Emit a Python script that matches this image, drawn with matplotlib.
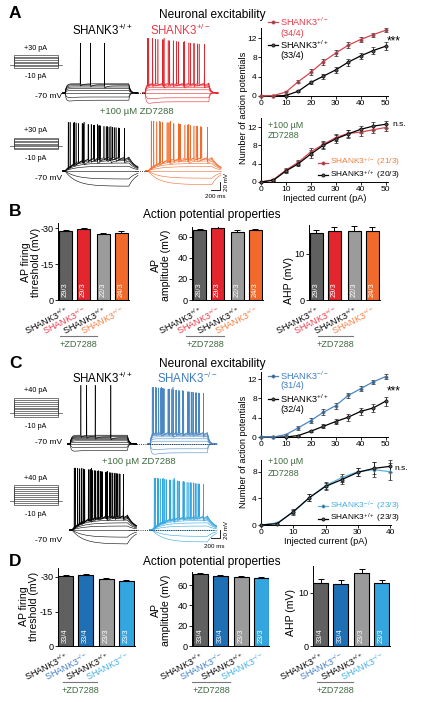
import numpy as np
import matplotlib.pyplot as plt

plt.rcParams['font.family'] = ['Liberation Sans', 'DejaVu Sans']
plt.rcParams['mathtext.fontset'] = 'custom'
plt.rcParams['mathtext.rm'] = 'Liberation Sans'
plt.rcParams['mathtext.default'] = 'regular'

# ---------- data ----------
current = [0, 5, 10, 15, 20, 25, 30, 35, 40, 45, 50]
a_het = [0, 0.1, 0.8, 3.0, 4.9, 7.1, 8.9, 10.5, 11.7, 12.7, 13.6]
a_het_err = [0, 0.1, 0.3, 0.4, 0.6, 0.6, 0.6, 0.6, 0.5, 0.4, 0.4]
a_wt = [0, 0, 0.1, 1.0, 2.8, 4.1, 5.4, 7.0, 8.3, 9.4, 10.3]
a_wt_err = [0, 0, 0.1, 0.2, 0.4, 0.5, 0.6, 0.7, 0.7, 0.8, 0.8]
a_zd_het = [0, 0.5, 2.6, 4.3, 6.6, 8.2, 9.7, 10.6, 10.9, 11.4, 11.9]
a_zd_het_err = [0, 0.2, 0.5, 0.6, 0.8, 0.8, 0.8, 0.8, 0.8, 0.8, 0.8]
a_zd_wt = [0, 0.4, 2.4, 4.0, 6.1, 8.0, 9.4, 10.5, 11.5, 12.2, 12.6]
a_zd_wt_err = [0, 0.2, 0.5, 0.6, 0.8, 0.8, 0.8, 0.8, 0.8, 0.8, 0.8]

c_ko = [0, 0, 0.5, 1.9, 3.4, 5.1, 6.5, 8.6, 10.0, 11.4, 12.5]
c_ko_err = [0, 0, 0.2, 0.4, 0.5, 0.6, 0.6, 0.6, 0.5, 0.5, 0.5]
c_wt = [0, 0, 0, 0.3, 1.2, 2.2, 3.2, 4.1, 5.3, 6.0, 7.4]
c_wt_err = [0, 0, 0, 0.1, 0.2, 0.4, 0.5, 0.7, 0.8, 0.9, 0.9]
current_zd = [0, 5, 10, 15, 20, 25, 30, 35, 40]
c_zd_ko = [0, 0.3, 1.9, 4.1, 5.9, 7.1, 8.0, 8.3, 8.0]
c_zd_ko_err = [0, 0.2, 0.4, 0.5, 0.5, 0.6, 0.6, 1.1, 1.3]
c_zd_wt = [0, 0.2, 2.0, 4.1, 5.8, 6.8, 7.9, 8.5, 8.8]
c_zd_wt_err = [0, 0.2, 0.4, 0.5, 0.5, 0.6, 0.6, 0.9, 0.9]

b_thr = [28.6, 29.7, 27.4, 27.8]
b_thr_err = [0.4, 0.5, 0.7, 1.0]
b_amp = [66.4, 68.3, 64.8, 66.4]
b_amp_err = [1.5, 1.9, 2.0, 1.2]
b_ahp = [14.6, 14.9, 14.9, 14.9]
b_ahp_err = [0.7, 1.0, 1.1, 1.0]
b_n = [['29/3', '29/3', '22/3', '24/3'],
       ['28/3', '29/3', '22/3', '24/3'],
       ['29/3', '29/3', '22/3', '24/3']]
d_thr = [30.3, 30.7, 29.1, 28.4]
d_thr_err = [0.4, 0.6, 0.5, 0.4]
d_amp = [70.6, 69.0, 68.0, 67.3]
d_amp_err = [1.0, 1.2, 1.0, 0.9]
d_ahp = [11.75, 11.6, 13.6, 11.75]
d_ahp_err = [0.8, 0.7, 0.8, 0.6]
d_n = ['33/4', '33/4', '23/3', '23/3']

# example traces: steps (pA), steady deflection (mV), spike counts, first-spike latency
steps_a = [-10, -5, 0, 5, 10, 15, 20, 25, 30]
steps_c = [-10, -5, 0, 5, 10, 15, 20, 25, 30, 35, 40]
a_wt_defl = [-18, -10, 0, 6, 11, 15, 18, 21, 23]
a_wt_spk = [0, 0, 0, 0, 0, 0, 1, 1, 1]
a_wt_lat = [0, 0, 0, 0, 0, 0, 0.62, 0.40, 0.24]
a_het_defl = [-22, -12, 0, 8, 14, 18, 21, 23, 25]
a_het_spk = [0, 0, 0, 0, 0, 3, 6, 9, 12]
a_het_lat = [0, 0, 0, 0, 0, 0.3, 0.12, 0.06, 0.04]
a_zwt_defl = [-38, -20, 0, 12, 20, 26, 30, 33, 35]
a_zwt_spk = [0, 0, 0, 0, 0, 4, 7, 10, 12]
a_zwt_lat = [0, 0, 0, 0, 0, 0.3, 0.15, 0.08, 0.05]
a_zhet_defl = [-34, -18, 0, 11, 19, 25, 29, 32, 34]
a_zhet_spk = [0, 0, 0, 0, 0, 3, 6, 9, 11]
a_zhet_lat = [0, 0, 0, 0, 0, 0.35, 0.18, 0.09, 0.05]
c_wt_defl = [-16, -8, 0, 4, 8, 11, 14, 16, 18, 20, 22]
c_wt_spk = [0, 0, 0, 0, 0, 0, 0, 1, 1, 1, 1]
c_wt_lat = [0, 0, 0, 0, 0, 0, 0, 0.71, 0.44, 0.29, 0.19]
c_ko_defl = [-22, -12, 0, 7, 13, 18, 22, 25, 27, 29, 30]
c_ko_spk = [0, 0, 0, 0, 0, 0, 2, 5, 8, 11, 14]
c_ko_lat = [0, 0, 0, 0, 0, 0, 0.4, 0.2, 0.1, 0.06, 0.04]
c_zwt_defl = [-35, -18, 0, 10, 18, 25, 30, 33, 35, 37, 38]
c_zwt_spk = [0, 0, 0, 0, 0, 0, 3, 6, 9, 12, 15]
c_zwt_lat = [0, 0, 0, 0, 0, 0, 0.35, 0.18, 0.1, 0.06, 0.04]
c_zko_defl = [-30, -16, 0, 10, 18, 24, 28, 31, 33, 35, 36]
c_zko_spk = [0, 0, 0, 0, 0, 0, 2, 5, 8, 11, 13]
c_zko_lat = [0, 0, 0, 0, 0, 0, 0.4, 0.2, 0.1, 0.06, 0.04]

# ---------- colours ----------
K = 'black'
RED = '#e3262d'
RED_T = '#e83a48'
RED_L = '#d9434f'
ORA = '#f26a2b'
ORA_T = '#f47c3c'
BLU = '#1f6fb4'
BLU_T = '#3d7cc4'
BLU_L = '#4a87c2'
LBL = '#33a6e0'
LBL_T = '#41ade3'
GRN = '#3d6b3f'
DG = '#606060'
LG = '#9b9b9b'

W, H = 421, 702
fig = plt.figure(figsize=(W / 100, H / 100), dpi=100)


def px_axes(l, t, r, b, **kw):
    return fig.add_axes([l / W, 1 - b / H, (r - l) / W, (b - t) / H], **kw)


ov = px_axes(0, 0, W, H, zorder=10)
ov.set_xlim(0, W)
ov.set_ylim(H, 0)
ov.axis('off')


def T(x, y, s, **kw):
    kw.setdefault('ha', 'center')
    kw.setdefault('va', 'center')
    ov.text(x, y, s, **kw)


SUP_WT = 'SHANK3$^{+/+}$'
SUP_HET = 'SHANK3$^{+/-}$'
SUP_KO = 'SHANK3$^{-/-}$'

# ---------- traces ----------
MS_PX = 23.5
MV_PX = 0.4


def trace_axes(top, bottom, base):
    ax = px_axes(60, top, 235, bottom)
    ax.set_xlim(0, 175 * MS_PX)
    ax.set_ylim(-70 - (bottom - base) / MV_PX, -70 + (base - top) / MV_PX)
    ax.axis('off')
    return ax


def draw_group(ax, start_px, defl, spk, lat, peak, color, dur, tau, sag):
    t0 = (start_px - 60) * MS_PX
    for d, n, la in zip(defl, spk, lat):
        t = np.arange(t0 - 60, t0 + dur + 220, 4.0)
        s = t - t0
        v = np.full(t.shape, -70.0)
        on = (s >= 0) & (s <= dur)
        ch = 1 - np.exp(-s[on] / tau)
        sg = sag * np.exp(-s[on] / 150) if d < 0 else 0
        v[on] = -70 + d * ch * (1 + sg)
        v_end = -70 + d * (1 - np.exp(-dur / tau))
        off = s > dur
        so = s[off] - dur
        v[off] = -70 + (v_end + 70) * np.exp(-so / (tau * 0.6 + 20))
        if d < 0 and sag > 0:
            v[off] += -d * sag * 0.8 * np.exp(-so / 80) * (1 - np.exp(-so / 10))
        if n:
            ts = t0 + dur * np.linspace(la, 0.93, n)
            for tk in ts:
                m = (t > tk) & (t < t0 + dur)
                v[m] -= 6 * np.exp(-(t[m] - tk) / 60)
            for k, tk in enumerate(ts):
                i = np.argmin(np.abs(t - tk))
                v[i] = peak - 16 * k / max(n - 1, 1)
        ax.plot(t, v, color=color, lw=0.4)
    return t0, t0 + dur + 150


def protocol(top, bottom, levels, hi, lo):
    lo_v, hi_v = min(levels), max(levels)
    y0 = bottom - (0 - lo_v) / (hi_v - lo_v) * (bottom - top)
    for I in levels:
        y = bottom - (I - lo_v) / (hi_v - lo_v) * (bottom - top)
        ov.plot([14, 14, 58, 58], [y0, y, y, y0], color='#444444', lw=0.5)
    ov.plot([10, 14], [y0, y0], color='#444444', lw=0.5)
    ov.plot([58, 62], [y0, y0], color='#444444', lw=0.5)
    T(36, top - 7, hi, fontsize=5.2)
    T(36, bottom + 9, lo, fontsize=5.2)


# Row A1
ax = trace_axes(20, 125, 93)
s1, e1 = draw_group(ax, 65, a_wt_defl, a_wt_spk, a_wt_lat, 55, K, 1500, 30, 0.3)
s2, e2 = draw_group(ax, 145, a_het_defl, a_het_spk, a_het_lat, 67, RED, 1500, 30, 0.4)
ax.plot([e1, s2], [-70, -70], ':', color=K, lw=0.6)
# Row A2
ax = trace_axes(110, 200, 171)
s1, e1 = draw_group(ax, 65, a_zwt_defl, a_zwt_spk, a_zwt_lat, 52, K, 1500, 260, 0)
s2, e2 = draw_group(ax, 148, a_zhet_defl, a_zhet_spk, a_zhet_lat, 55, ORA, 1500, 260, 0)
ax.plot([e1, s2], [-70, -70], ':', color=K, lw=0.6)
xb = (220 - 60) * MS_PX
ax.plot([xb - 200, xb, xb], [-70 - 19 / MV_PX, -70 - 19 / MV_PX, -70 - 19 / MV_PX + 20],
        color=K, lw=0.6)
# Row C1
ax = trace_axes(370, 470, 444)
s1, e1 = draw_group(ax, 70, c_wt_defl, c_wt_spk, c_wt_lat, 77, K, 1350, 30, 0.3)
s2, e2 = draw_group(ax, 150, c_ko_defl, c_ko_spk, c_ko_lat, 72, BLU_L, 1350, 30, 0.4)
ax.plot([e1, e2], [-70, -70], ':', color=K, lw=0.6)
# Row C2
ax = trace_axes(455, 560, 530)
s1, e1 = draw_group(ax, 72, c_zwt_defl, c_zwt_spk, c_zwt_lat, 85, K, 1300, 260, 0)
s2, e2 = draw_group(ax, 152, c_zko_defl, c_zko_spk, c_zko_lat, 60, LBL, 1300, 260, 0)
ax.plot([e1 - 100, e2], [-70, -70], ':', color=K, lw=0.6)
ax.plot([xb - 200, xb, xb], [-70 - 8 / MV_PX, -70 - 8 / MV_PX, -70 - 8 / MV_PX + 20],
        color=K, lw=0.6)

protocol(55, 68, steps_a, '+30 pA', '-10 pA')
protocol(138, 149, steps_a, '+30 pA', '-10 pA')
protocol(398, 417, steps_c, '+40 pA', '-10 pA')
protocol(485, 505, steps_c, '+40 pA', '-10 pA')

for y in (97, 179, 443, 540):
    T(62, y, '-70 mV', fontsize=6, ha='right')
T(137, 112, '+100 µM ZD7288', fontsize=6.8, color=GRN)
T(139, 462, '+100 µM ZD7288', fontsize=6.8, color=GRN)
T(226, 182, '20 mV', fontsize=4.5, rotation=90)
T(215, 196, '200 ms', fontsize=4.5)
T(226, 530, '20 mV', fontsize=4.5, rotation=90)
T(214, 547, '200 ms', fontsize=4.5)

T(72, 30, SUP_WT, fontsize=8.3, ha='left')
T(150, 30, SUP_HET, fontsize=8.3, ha='left', color=RED_T)
T(72, 378, SUP_WT, fontsize=8.3, ha='left')
T(157, 378, SUP_KO, fontsize=8.3, ha='left', color=BLU_T)

# panel letters and titles
for lab, y in (('A', 14), ('B', 211), ('C', 364), ('D', 561)):
    T(9, y, lab, fontsize=12.5, fontweight='bold', ha='left')
T(212, 15, 'Neuronal excitability', fontsize=8.6)
T(212, 364, 'Neuronal excitability', fontsize=8.6)
T(212, 215, 'Action potential properties', fontsize=8.6)
T(212, 562, 'Action potential properties', fontsize=8.6)


# ---------- action potential count curves ----------
def style(ax, ylim, yticks, xlim, xticks):
    ax.set_ylim(*ylim)
    ax.set_xlim(*xlim)
    ax.set_yticks(yticks)
    ax.set_xticks(xticks)
    for sp in ('top', 'right'):
        ax.spines[sp].set_visible(False)
    for sp in ('left', 'bottom'):
        ax.spines[sp].set_linewidth(0.7)
    ax.tick_params(labelsize=6, length=2, width=0.6, pad=1)
    ax.patch.set_alpha(0)


def curve(ax, x, y, e, c):
    ax.errorbar(x, y, yerr=e, color=c, lw=0.9, marker='o', ms=2.3, mfc='#555555',
                mec=c, mew=0.5, ecolor='#222222', elinewidth=0.6, capsize=1.2,
                capthick=0.6, clip_on=False, zorder=3)


ax = px_axes(261, 28.4, 388, 96)
curve(ax, current, a_wt, a_wt_err, K)
curve(ax, current, a_het, a_het_err, RED_L)
style(ax, (0, 14), [0, 4, 8, 12], (0, 51), range(0, 51, 10))

ax = px_axes(261, 117.9, 388, 182)
curve(ax, current, a_zd_het, a_zd_het_err, RED_L)
curve(ax, current, a_zd_wt, a_zd_wt_err, K)
style(ax, (0, 14), [0, 4, 8, 12], (0, 51), range(0, 51, 10))
ax.set_xlabel('Injected current (pA)', fontsize=6.6, labelpad=0.5)

ax = px_axes(261, 371.8, 388, 437)
curve(ax, current, c_wt, c_wt_err, K)
curve(ax, current, c_ko, c_ko_err, BLU_L)
style(ax, (0, 13.5), [0, 4, 8, 12], (0, 51), range(0, 51, 10))

ax = px_axes(261, 459.7, 391, 525)
curve(ax, current_zd, c_zd_ko, c_zd_ko_err, '#5ab4e0')
curve(ax, current_zd, c_zd_wt, c_zd_wt_err, K)
style(ax, (0, 9.8), [0, 4, 8], (0, 40.3), range(0, 41, 10))
ax.set_xlabel('Injected current (pA)', fontsize=6.6, labelpad=0.5)

T(243, 108, 'Number of action potentials', fontsize=6.6, rotation=90)
T(243, 452, 'Number of action potentials', fontsize=6.6, rotation=90)


def leg(x, y, c, txt, tc, fs=6.6):
    ov.plot([x - 10, x], [y, y], color=c, lw=0.9)
    ov.plot(x - 5, y, 'o', ms=2.3, mfc='#555555', mec=c, mew=0.5)
    T(x + 2, y, txt, fontsize=fs, ha='left', color=tc)


leg(278, 22, RED_L, SUP_HET, RED_T)
T(280, 33, '(34/4)', fontsize=6.6, ha='left', color=RED_T)
leg(278, 45, K, SUP_WT, K)
T(280, 56, '(33/4)', fontsize=6.6, ha='left')
T(394, 41, '***', fontsize=8.5)
T(268, 125, '+100 µM', fontsize=6.4, ha='left', color=GRN)
T(268, 136, 'ZD7288', fontsize=6.4, ha='left', color=GRN)
T(392, 124, 'n.s.', fontsize=6, ha='left')
leg(328, 162.5, RED_L, SUP_HET + ' (21/3)', ORA_T, 6.0)
leg(328, 175, K, SUP_WT + ' (20/3)', K, 6.0)

leg(278, 376, BLU_L, SUP_KO, BLU_T)
T(280, 386, '(31/4)', fontsize=6.6, ha='left', color=BLU_T)
leg(278, 399, K, SUP_WT, K)
T(280, 409, '(32/4)', fontsize=6.6, ha='left')
T(394, 391, '***', fontsize=8.5)
T(268, 462, '+100 µM', fontsize=6.4, ha='left', color=GRN)
T(268, 473, 'ZD7288', fontsize=6.4, ha='left', color=GRN)
T(394, 468, 'n.s.', fontsize=6, ha='left')
leg(328, 506, '#5ab4e0', SUP_KO + ' (23/3)', LBL_T, 6.0)
leg(328, 518.5, K, SUP_WT + ' (23/3)', K, 6.0)


# ---------- bar charts ----------
def bars(box, vals, errs, cols, ns, ylim, yticks, ytl, pos, width, xlim, lab_cols, lab_txt):
    ax = px_axes(*box)
    ax.bar(pos, vals, width=width, color=cols, edgecolor=K, linewidth=0.8, zorder=2)
    ax.errorbar(pos, vals, yerr=[[0] * 4, errs], fmt='none', ecolor=K, elinewidth=0.7,
                capsize=2, capthick=0.7, zorder=1)
    for p, s in zip(pos, ns):
        ax.annotate(s, (p, 0), xytext=(0, 2), textcoords='offset points', rotation=90,
                    ha='center', va='bottom', color='white', fontsize=5.4, zorder=3)
    ax.set_xlim(*xlim)
    ax.set_ylim(*ylim)
    ax.set_yticks(yticks, ytl)
    ax.set_xticks(pos, lab_txt, rotation=27, ha='right', rotation_mode='anchor')
    for t, c in zip(ax.get_xticklabels(), lab_cols):
        t.set_color(c)
    for sp in ('top', 'right'):
        ax.spines[sp].set_visible(False)
    for sp in ('left', 'bottom'):
        ax.spines[sp].set_linewidth(0.7)
    ax.tick_params(axis='y', labelsize=6.6, length=2, width=0.6, pad=1)
    ax.tick_params(axis='x', labelsize=6.5, length=0, pad=3)
    ax.patch.set_alpha(0)
    return ax


b_cols = [DG, RED, LG, ORA]
b_lab = [K, RED_T, K, ORA_T]
b_txt = [SUP_WT, SUP_HET, SUP_WT, SUP_HET]
bpos = [0, 1, 2.1, 3.1]
bx = (-0.42, 3.5)
bars((58, 223.2, 128.6, 300), b_thr, b_thr_err, b_cols, b_n[0], (0, 32), [0, 15, 30],
     ['0', '-15', '-30'], bpos, 0.72, bx, b_lab, b_txt)
bars((192, 227, 262.6, 300), b_amp, b_amp_err, b_cols, b_n[1], (0, 69.5), [0, 20, 40, 60],
     ['0', '20', '40', '60'], bpos, 0.72, bx, b_lab, b_txt)
bars((308.9, 225, 379.5, 300), b_ahp, b_ahp_err, b_cols, b_n[2], (0, 16.3), [0, 10],
     ['0', '10'], bpos, 0.72, bx, b_lab, b_txt)

d_cols = [DG, BLU, LG, LBL]
d_lab = [K, BLU_T, K, LBL_T]
d_txt = [SUP_WT, SUP_KO, SUP_WT, SUP_KO]
dpos = [0, 1, 2.05, 3.05]
dx = (-0.4, 3.45)
bars((57.5, 567.8, 134.5, 646), d_thr, d_thr_err, d_cols, d_n, (0, 34), [0, 15, 30],
     ['0', '-15', '-30'], dpos, 0.75, dx, d_lab, d_txt)
bars((192, 571.8, 269, 646), d_amp, d_amp_err, d_cols, d_n, (0, 73), [0, 20, 40, 60],
     ['0', '20', '40', '60'], dpos, 0.75, dx, d_lab, d_txt)
bars((312.5, 566, 389.5, 646), d_ahp, d_ahp_err, d_cols, d_n, (0, 15), [0, 10],
     ['0', '10'], dpos, 0.75, dx, d_lab, d_txt)

for x0, x1, y in ((60, 97, 336), (186, 224, 336), (318, 353, 336),
                  (63, 97, 682), (192, 230, 682), (317, 353, 682)):
    ov.plot([x0, x1], [y, y], color='#777777', lw=0.8)
    T((x0 + x1) / 2, y + 8.5, '+ZD7288', fontsize=6.6, color=GRN)

# bar y labels
T(31, 262, 'AP firing\nthreshold (mV)', fontsize=7.6, rotation=90, linespacing=1.0)
T(161, 265, 'AP\namplitude (mV)', fontsize=7.6, rotation=90, linespacing=1.0)
T(289, 280, 'AHP (mV)', fontsize=7.6, rotation=90)
T(29, 606, 'AP firing\nthreshold (mV)', fontsize=7.6, rotation=90, linespacing=1.0)
T(161, 610, 'AP\namplitude (mV)', fontsize=7.6, rotation=90, linespacing=1.0)
T(291, 612, 'AHP (mV)', fontsize=7.6, rotation=90)

fig.savefig('out.png', dpi=100)
